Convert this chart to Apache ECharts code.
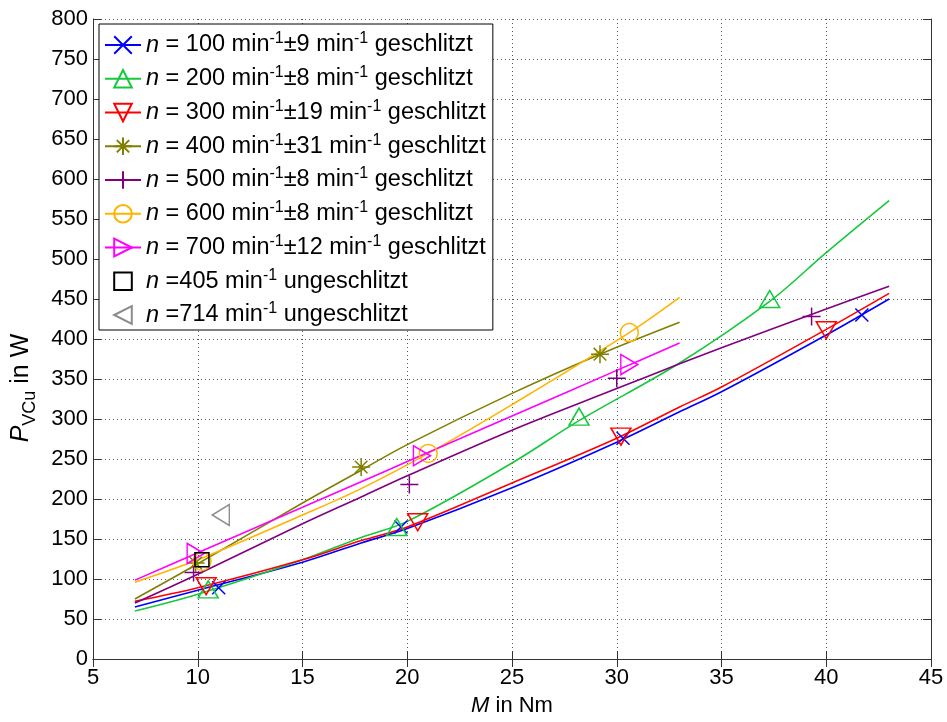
<!DOCTYPE html>
<html>
<head>
<meta charset="utf-8">
<script src="https://cdn.jsdelivr.net/npm/echarts@6/dist/echarts.min.js"></script>
<style>
  html, body { margin: 0; padding: 0; background: #ffffff; }
  #chart { width: 947px; height: 722px; }
</style>
</head>
<body>
<div id="chart"></div>
<script>
// Copper losses P_VCu over torque M for several speeds (fitted curves + measured points)

// axis ticks
const xTicks = { min: 5, max: 45, step: 5 };
const yTicks = { min: 0, max: 800, step: 50 };

// legend text parts: speed, tolerance
const speeds = ['100', '200', '300', '400', '500', '600', '700'];
const tolerances = ['9', '8', '19', '31', '8', '8', '12'];
const unslottedSpeeds = ['405', '714'];

// fitted curves [M in Nm, P in W]
const fit100 = [[7, 65], [10, 86], [15, 121], [17.8, 145], [20, 163], [25, 214], [30, 271], [33, 309], [35, 334], [40, 405], [43, 450]];
const fit200 = [[7, 60], [10, 81], [15, 124], [17.8, 152], [20, 172], [25, 245], [28.2, 298], [33, 370], [37.3, 447], [40, 508], [43, 573]];
const fit300 = [[7, 72], [10, 89], [15, 124], [17.8, 148], [20, 165], [25, 220], [30, 276], [33, 315], [35, 340], [40, 412], [43, 457]];
const fit400 = [[7, 75], [10, 119], [15, 195], [17.8, 236], [20, 268], [25, 332], [29.2, 381], [33, 421]];
const fit500 = [[7, 70], [10, 106], [15, 169], [17.8, 202.5], [20, 229], [25, 286], [30, 338], [33, 369], [35, 389], [40, 437.5], [43, 466]];
const fit600 = [[7, 96], [10, 124], [15, 180], [17.8, 213], [21, 257], [25, 318], [30.6, 408], [33, 452]];
const fit700 = [[7, 98.6], [10, 132.8], [17.8, 221.5], [20, 246.8], [25, 303.8], [30, 360.8], [33, 395]];

// measured points [M in Nm, P in W]
const meas100 = [[11.0, 89], [19.7, 165], [30.3, 276], [41.7, 430]];
const meas200 = [[10.5, 87], [19.5, 165], [28.2, 303], [37.3, 450]];
const meas300 = [[10.4, 91], [20.5, 171], [30.2, 278], [40.0, 411]];
const meas400 = [[9.9, 120], [17.8, 240], [29.2, 381]];
const meas500 = [[9.8, 108], [20.1, 218], [30.0, 351], [39.3, 428]];
const meas600 = [[10.2, 122], [21.0, 257], [30.6, 408]];
const meas700 = [[9.9, 132], [20.7, 254], [30.6, 368]];
const meas405 = [[10.2, 124]];
const meas714 = [[11.1, 180]];

const FONT = '"Liberation Sans", Arial, Helvetica, sans-serif';

const SYM_X = 'path://M0,0L10,10M10,0L0,10';
const SYM_STAR = 'path://M5,0L5,10M0,5L10,5M1.5,1.5L8.5,8.5M8.5,1.5L1.5,8.5';
const SYM_PLUS = 'path://M5,0L5,10M0,5L10,5';

const groups = [
  { fit: fit100, meas: meas100, color: '#0000ff', symbol: SYM_X, size: 13, rotate: 0 },
  { fit: fit200, meas: meas200, color: '#16c83c', symbol: 'triangle', size: [20, 17], rotate: 0 },
  { fit: fit300, meas: meas300, color: '#ff0000', symbol: 'triangle', size: [20, 17], rotate: 180 },
  { fit: fit400, meas: meas400, color: '#808000', symbol: SYM_STAR, size: 18, rotate: 0 },
  { fit: fit500, meas: meas500, color: '#800080', symbol: SYM_PLUS, size: 18, rotate: 0 },
  { fit: fit600, meas: meas600, color: '#ffb400', symbol: 'circle', size: 18, rotate: 0 },
  { fit: fit700, meas: meas700, color: '#ff00ff', symbol: 'triangle', size: [20, 17], rotate: -90 }
];
const singles = [
  { meas: meas405, color: '#000000', symbol: 'rect', size: 14, rotate: 0 },
  { meas: meas714, color: '#8c8c8c', symbol: 'triangle', size: [21, 17], rotate: 90 }
];

const series = [];
const legendNames = [];
const legendLabels = {};

groups.forEach((g, i) => {
  const name = 'g' + speeds[i];
  legendNames.push(name);
  legendLabels[name] = '{i|n}{t| = ' + speeds[i] + ' min}{s|-1}{t|\u00b1' + tolerances[i] + ' min}{s|-1}{t| geschlitzt}';
  const itemStyle = { color: 'rgba(0,0,0,0)', borderColor: g.color, borderWidth: 1.5 };
  series.push({
    type: 'line', name: name, data: g.fit, smooth: 0.35, showSymbol: false,
    symbol: g.symbol, symbolRotate: g.rotate, symbolSize: g.size,
    lineStyle: { color: g.color, width: 1.6 }, itemStyle: itemStyle,
    silent: true, z: 2
  });
  series.push({
    type: 'line', name: name, data: g.meas, showSymbol: true, showAllSymbol: true,
    symbol: g.symbol, symbolRotate: g.rotate, symbolSize: g.size,
    lineStyle: { opacity: 0, width: 0 }, itemStyle: itemStyle,
    silent: true, z: 3
  });
});
singles.forEach((g, i) => {
  const name = 'u' + unslottedSpeeds[i];
  legendNames.push(name);
  legendLabels[name] = '{i|n}{t| =' + unslottedSpeeds[i] + ' min}{s|-1}{t| ungeschlitzt}';
  series.push({
    type: 'line', name: name, data: g.meas, showSymbol: true,
    symbol: g.symbol, symbolRotate: g.rotate, symbolSize: g.size,
    lineStyle: { opacity: 0, width: 0 },
    itemStyle: { color: 'rgba(0,0,0,0)', borderColor: g.color, borderWidth: 1.5 },
    silent: true, z: 3
  });
});

const axisColor = '#333333';
const tickLabel = { color: '#000', fontSize: 22, fontFamily: FONT };

const chart = echarts.init(document.getElementById('chart'), null, { renderer: 'canvas' });
chart.setOption({
  animation: false,
  backgroundColor: '#ffffff',
  grid: { left: 93, right: 16, top: 19, bottom: 56, show: false },
  xAxis: [
    {
      type: 'value', min: xTicks.min, max: xTicks.max, interval: xTicks.step,
      position: 'bottom',
      axisLine: { show: true, lineStyle: { color: axisColor, width: 1 } },
      axisTick: { show: true, inside: true, length: 8, lineStyle: { color: axisColor } },
      axisLabel: Object.assign({ margin: 8 }, tickLabel),
      splitLine: { show: true, lineStyle: { color: '#555', type: [1, 3], width: 1 } },
      name: '{i|M}{t| in Nm}', nameLocation: 'middle', nameGap: 36,
      nameTextStyle: {
        rich: {
          i: { fontSize: 22, fontStyle: 'italic', fontFamily: FONT, color: '#000' },
          t: { fontSize: 22, fontFamily: FONT, color: '#000' }
        }
      }
    },
    {
      type: 'value', min: xTicks.min, max: xTicks.max, interval: xTicks.step,
      position: 'top',
      axisLine: { show: true, lineStyle: { color: axisColor, width: 1 } },
      axisTick: { show: true, inside: true, length: 8, lineStyle: { color: axisColor } },
      axisLabel: { show: false }, splitLine: { show: false }
    }
  ],
  yAxis: [
    {
      type: 'value', min: yTicks.min, max: yTicks.max, interval: yTicks.step,
      position: 'left',
      axisLine: { show: true, lineStyle: { color: axisColor, width: 1 } },
      axisTick: { show: true, inside: true, length: 8, lineStyle: { color: axisColor } },
      axisLabel: Object.assign({ margin: 5 }, tickLabel),
      splitLine: { show: true, lineStyle: { color: '#555', type: [1, 3], width: 1 } }
    },
    {
      type: 'value', min: yTicks.min, max: yTicks.max, interval: yTicks.step,
      position: 'right',
      axisLine: { show: true, lineStyle: { color: axisColor, width: 1 } },
      axisTick: { show: true, inside: true, length: 8, lineStyle: { color: axisColor } },
      axisLabel: { show: false }, splitLine: { show: false }
    }
  ],
  graphic: [{
    type: 'text', x: 24, y: 388, rotation: Math.PI / 2, z: 20,
    style: {
      text: '{p|P}{sub|VCu}{t| in W}', align: 'center', verticalAlign: 'middle',
      rich: {
        p: { fontSize: 25, fontStyle: 'italic', fontFamily: FONT, fill: '#000', lineHeight: 30, verticalAlign: 'top' },
        sub: { fontSize: 18, fontFamily: FONT, fill: '#000', lineHeight: 16, verticalAlign: 'bottom' },
        t: { fontSize: 25, fontFamily: FONT, fill: '#000', lineHeight: 30, verticalAlign: 'top' }
      }
    }
  }],
  legend: {
    data: legendNames,
    orient: 'vertical', left: 99, top: 24,
    padding: [7, 7, 3, 5], itemGap: 7.75,
    itemWidth: 36, itemHeight: 22,
    backgroundColor: '#ffffff', borderColor: '#000000', borderWidth: 1,
    selectedMode: false, z: 10,
    formatter: (name) => legendLabels[name],
    textStyle: {
      fontFamily: FONT, fontSize: 23.5, color: '#000',
      rich: {
        i: { fontSize: 23.5, fontStyle: 'italic', fontFamily: FONT, color: '#000', lineHeight: 28 },
        t: { fontSize: 23.5, fontFamily: FONT, color: '#000', lineHeight: 28 },
        s: { fontSize: 16, fontFamily: FONT, color: '#000', lineHeight: 14, verticalAlign: 'top' }
      }
    }
  },
  series: series
});
</script>
</body>
</html>
